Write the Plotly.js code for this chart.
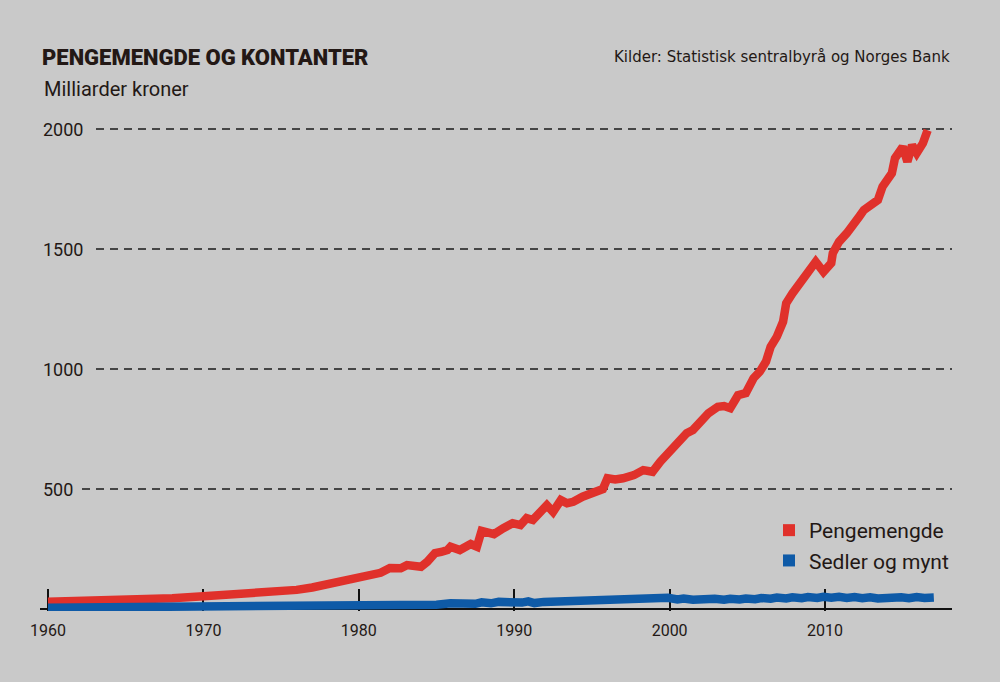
<!DOCTYPE html>
<html>
<head>
<meta charset="utf-8">
<script src="https://cdn.plot.ly/plotly-3.0.1.min.js"></script>
<style>
html,body{margin:0;padding:0;background:#c9c9c9;}
#chart{width:1000px;height:682px;}
</style>
</head>
<body>
<div id="chart"></div>
<script>
// Pengemengde (money supply), billion NOK
const moneyYears = [1960,1962,1964,1966,1968,1970,1972,1974,1975,1976,1977,1978,1979,
  1980.0,1980.7,1981.4,1982.0,1982.7,1983.1,1983.8,1984.0,1984.4,1984.9,1985.3,1985.7,1985.9,1986.5,
  1987.2,1987.6,1987.9,1988.3,1988.7,1989.3,1989.9,1990.4,1990.8,1991.2,1991.7,1992.1,1992.5,1993.0,
  1993.4,1993.8,1994.4,1994.9,1995.3,1995.7,1996.0,1996.5,1997.0,1997.7,1998.3,1998.9,1999.4,2000.0,
  2000.6,2001.1,2001.5,2002.1,2002.5,2003.1,2003.5,2003.9,2004.4,2004.9,2005.4,2005.8,2006.2,2006.5,
  2006.9,2007.3,2007.5,2007.9,2008.4,2008.7,2009.0,2009.4,2009.9,2010.4,2010.5,2010.9,2011.4,2011.8,
  2012.2,2012.5,2013.1,2013.4,2013.7,2014.0,2014.3,2014.5,2015.0,2015.3,2015.6,2015.9,2016.3,2016.6];
const moneyValues = [31,33,36,40,45,53,60,67,72,80,90,103,115,
  128,140,151,171,170,183,183,176,197,233,238,246,260,246,
  271,260,326,318,312,337,358,350,379,371,400,433,405,454,
  441,447,468,482,489,500,545,540,545,558,579,572,614,655,
  691,733,746,796,816,843,846,837,891,900,962,989,1031,1093,
  1135,1197,1274,1315,1357,1385,1400,1447,1405,1441,1483,1530,1566,1607,
  1635,1662,1690,1704,1760,1787,1816,1878,1926,1864,1933,1900,1941,1995];

// Sedler og mynt (notes and coins), billion NOK
const cashYears = [1960,1965,1970,1975,1980,1982,1984,1985,1985.9,1986.5,1987.5,1987.9,1988.5,1989.0,
  1989.5,1989.9,1990.5,1990.9,1991.3,1991.9,1992.5,1992.9,1993.5,1993.9,1994.5,1994.9,1995.5,1995.9,
  1996.5,1996.9,1997.4,1997.9,1998.5,1998.9,1999.5,1999.9,2000.5,2000.9,2001.5,2001.9,2002.5,2002.9,
  2003.5,2003.9,2004.5,2004.9,2005.5,2005.9,2006.5,2006.9,2007.5,2007.9,2008.5,2008.9,2009.5,2009.9,
  2010.4,2010.9,2011.4,2011.9,2012.4,2012.9,2013.4,2013.9,2014.4,2014.9,2015.4,2015.9,2016.4,2016.9,2017.0];
const cashValues = [6,7,9,11,13,15,17,18,24,20,22,28,24,30,
  27,32,27,32,25,30,31,36,35,40,37,42,38,44,
  40,44,38,43,41,45,42,47,40,44,39,42,40,43,
  39,43,40,44,41,46,43,48,44,49,45,50,46,51,
  47,51,46,50,45,49,44,48,45,49,45,50,46,50,48];

const seriesNames = ["Pengemengde", "Sedler og mynt"];
const seriesColors = ["#e0312b", "#0e5aa7"];

const xTickVals = [1960,1970,1980,1990,2000,2010];
const xTickText = ["1960","1970","1980","1990","2000","2010"];
const yTickVals = [500,1000,1500,2000];
const yTickText = ["500","1000","1500","2000"];

const titleText = "PENGEMENGDE OG KONTANTER";
const subtitleText = "Milliarder kroner";
const sourceText = "Kilder: Statistisk sentralbyrå og Norges Bank";

const BG = "#c9c9c9";
const INK = "#231815";
const FONT = "Roboto, 'Liberation Sans', sans-serif";

const traces = [
  {x: moneyYears, y: moneyValues, type: "scatter", mode: "lines", name: seriesNames[0],
   line: {color: seriesColors[0], width: 8.5, shape: "linear"}, showlegend: false, hoverinfo: "skip"},
  {x: cashYears, y: cashValues, type: "scatter", mode: "lines", name: seriesNames[1],
   line: {color: seriesColors[1], width: 8.5, shape: "linear"}, showlegend: false, hoverinfo: "skip"},
  {x: [null], y: [null], type: "scatter", mode: "markers", name: seriesNames[0],
   marker: {symbol: "square", size: 16, color: seriesColors[0]}, showlegend: true},
  {x: [null], y: [null], type: "scatter", mode: "markers", name: seriesNames[1],
   marker: {symbol: "square", size: 16, color: seriesColors[1]}, showlegend: true}
];

const annotations = [
  {text: subtitleText, xref: "paper", yref: "paper", x: 0.002, xanchor: "left",
   y: 1 + (105 - 89) / 506, yanchor: "middle", showarrow: false,
   font: {family: FONT, size: 20, color: INK}},
  {text: sourceText, xref: "paper", yref: "paper", x: 1, xanchor: "right",
   y: 1 + (105 - 57) / 506, yanchor: "middle", showarrow: false,
   font: {family: "'DejaVu Sans', sans-serif", size: 15, color: INK}}
];
yTickVals.forEach((v, i) => {
  annotations.push({text: yTickText[i], xref: "paper", yref: "y", x: -0.0066, xanchor: "left",
    y: v, yanchor: "middle", showarrow: false, bgcolor: BG, borderpad: 8,
    font: {family: FONT, size: 18, color: INK}});
});

const layout = {
  width: 1000, height: 682,
  paper_bgcolor: BG, plot_bgcolor: BG,
  margin: {l: 40, r: 48, t: 105, b: 71, pad: 0, autoexpand: false},
  title: {text: titleText, xref: "container", yref: "container", x: 0.042, xanchor: "left",
    y: 1 - 57.5 / 682, yanchor: "middle",
    font: {family: FONT, size: 22, weight: 900, color: INK}},
  xaxis: {range: [1959.485, 2018.17], tickvals: xTickVals, ticktext: xTickText,
    showgrid: false, zeroline: false, showline: false,
    ticks: "inside", ticklen: 22, tickwidth: 2, tickcolor: "#111",
    ticklabelstandoff: 8,
    tickfont: {family: FONT, size: 16, color: INK}, layer: "below traces", fixedrange: true},
  yaxis: {range: [-8, 2100], tickvals: yTickVals, showticklabels: false,
    showgrid: true, gridcolor: "#454545", gridwidth: 1.5, griddash: "8px,6px",
    zeroline: true, zerolinecolor: "#111", zerolinewidth: 2,
    showline: false, ticks: "", fixedrange: true},
  legend: {xref: "paper", yref: "paper", x: (769 - 40) / 912, xanchor: "left",
    y: 1 - (510 - 105) / 506, yanchor: "top", bgcolor: "rgba(0,0,0,0)", borderwidth: 0,
    font: {family: FONT, size: 21, color: INK}, itemsizing: "constant"},
  annotations: annotations,
  showlegend: true
};

Plotly.newPlot("chart", traces, layout, {displayModeBar: false, staticPlot: true});
</script>
</body>
</html>
